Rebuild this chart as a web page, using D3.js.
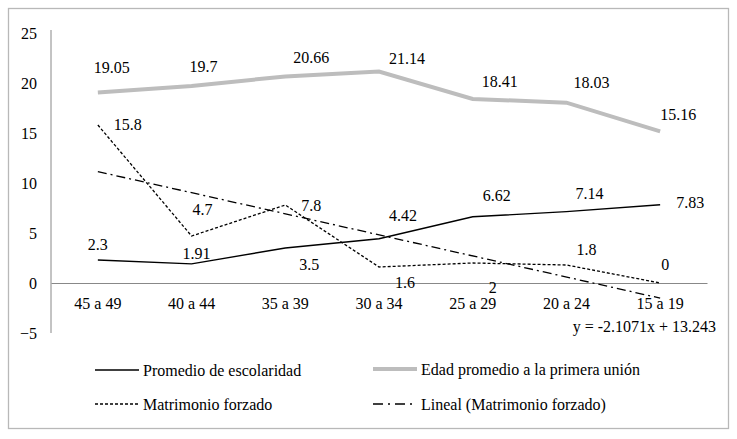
<!DOCTYPE html>
<html>
<head>
<meta charset="utf-8">
<script src="https://cdn.jsdelivr.net/npm/d3@7"></script>
<style>
  body { margin: 0; background: #fff; }
</style>
</head>
<body>
<div id="chart"></div>
<script>
// age groups on the x axis
var categories = ['45 a 49', '40 a 44', '35 a 39', '30 a 34', '25 a 29', '20 a 24', '15 a 19'];
var escolaridad = [2.3, 1.91, 3.5, 4.42, 6.62, 7.14, 7.83];
var edadUnion = [19.05, 19.7, 20.66, 21.14, 18.41, 18.03, 15.16];
var forzado = [15.8, 4.7, 7.8, 1.6, 2, 1.8, 0];
// trend line end values (first and last group), as shown in the chart
var trendEnds = [11.14, -1.51];
var trendLabel = 'y = -2.1071x + 13.243';
var yTicks = [-5, 0, 5, 10, 15, 20, 25];

// label nudges, px (picked by eye from the original)
var escOff = [[0, -16], [5, -10], [24, 16], [24, -23], [24, -21], [23, -18], [30, -2]];
var edadOff = [[14, -25], [12, -20], [26, -19], [28, -13], [27, -17], [25, -20], [18, -17]];
var forOff = [[30, -1], [11, -27], [26, 0], [26, 15], [20, 24], [20, -16], [5, -19]];

var FONT = "'Liberation Serif', 'Times New Roman', serif";

var width = 737, height = 439;
var margin = { top: 33, left: 51, right: 30, bottom: 106 };

var svg = d3.select('#chart').append('svg')
  .attr('width', width)
  .attr('height', height);

// outer frame
svg.append('rect')
  .attr('x', 8.5).attr('y', 8.5)
  .attr('width', 720).attr('height', 420)
  .attr('fill', 'none').attr('stroke', '#b8b8b8').attr('stroke-width', 1.3);

var x = d3.scaleBand()
  .domain(categories)
  .range([margin.left, 707]);

var y = d3.scaleLinear()
  .domain([-5, 25])
  .range([333, 33]);

function cx(i) { return x(categories[i]) + x.bandwidth() / 2; }

// y axis
var yAxis = svg.append('g')
  .attr('transform', 'translate(' + margin.left + ',0)')
  .call(d3.axisLeft(y).tickValues(yTicks).tickSize(0).tickPadding(14));
yAxis.select('.domain').attr('stroke', '#888').attr('d', 'M0,' + (y(25) - 3) + 'V' + y(-5));

// x axis on zero line
var xAxis = svg.append('g')
  .attr('transform', 'translate(0,' + y(0) + ')')
  .call(d3.axisBottom(x).tickSize(0).tickPadding(15));
xAxis.select('.domain').attr('stroke', '#888');

var line = d3.line()
  .x(function (d, i) { return cx(i); })
  .y(function (d) { return y(d); });

svg.append('path').datum(edadUnion)
  .attr('d', line).attr('fill', 'none')
  .attr('stroke', '#bdbdbd').attr('stroke-width', 4);

svg.append('path').datum(escolaridad)
  .attr('d', line).attr('fill', 'none')
  .attr('stroke', '#000').attr('stroke-width', 1.4);

svg.append('path').datum(forzado)
  .attr('d', line).attr('fill', 'none')
  .attr('stroke', '#000').attr('stroke-width', 1.3)
  .attr('stroke-dasharray', '3,2');

// trend line
svg.append('line')
  .attr('x1', cx(0)).attr('y1', y(trendEnds[0]))
  .attr('x2', cx(categories.length - 1)).attr('y2', y(trendEnds[1]))
  .attr('stroke', '#000').attr('stroke-width', 1.3)
  .attr('stroke-dasharray', '9,4,2,4');

function labels(vals, offs) {
  svg.append('g').selectAll('text')
    .data(vals)
    .join('text')
    .attr('x', function (d, i) { return cx(i) + offs[i][0]; })
    .attr('y', function (d, i) { return y(d) + offs[i][1]; })
    .attr('text-anchor', 'middle')
    .attr('dominant-baseline', 'central')
    .text(function (d) { return d; });
}
labels(edadUnion, edadOff);
labels(escolaridad, escOff);
labels(forzado, forOff);

svg.append('text')
  .attr('x', 716).attr('y', 326)
  .attr('text-anchor', 'end')
  .attr('dominant-baseline', 'central')
  .text(trendLabel);

// legend
var legend = [
  { name: 'Promedio de escolaridad', x: 95, y: 370, color: '#000', w: 1.4, dash: null },
  { name: 'Edad promedio a la primera unión', x: 373, y: 369, color: '#bdbdbd', w: 4, dash: null },
  { name: 'Matrimonio forzado', x: 95, y: 404, color: '#000', w: 1.3, dash: '3,2' },
  { name: 'Lineal (Matrimonio forzado)', x: 373, y: 404, color: '#000', w: 1.3, dash: '10,5,2,5' }
];
var lg = svg.append('g').selectAll('g').data(legend).join('g');
lg.append('line')
  .attr('x1', function (d) { return d.x; })
  .attr('x2', function (d) { return d.x + 44; })
  .attr('y1', function (d) { return d.y; })
  .attr('y2', function (d) { return d.y; })
  .attr('stroke', function (d) { return d.color; })
  .attr('stroke-width', function (d) { return d.w; })
  .attr('stroke-dasharray', function (d) { return d.dash; });
lg.append('text')
  .attr('x', function (d) { return d.x + 48; })
  .attr('y', function (d) { return d.y; })
  .attr('dominant-baseline', 'central')
  .text(function (d) { return d.name; });

// one font for every text, axes included
svg.selectAll('text')
  .style('font-family', FONT)
  .style('font-size', '16px')
  .attr('fill', '#000');
</script>
</body>
</html>
